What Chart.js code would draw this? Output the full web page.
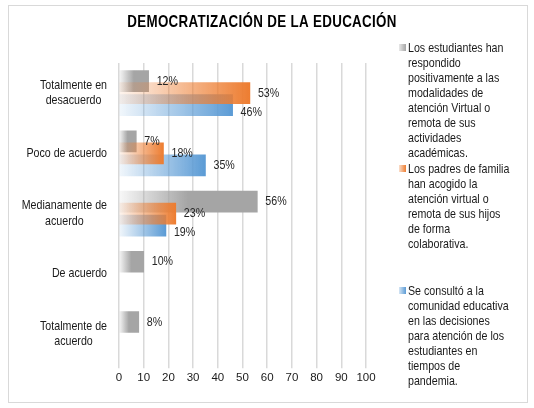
<!DOCTYPE html>
<html>
<head>
<meta charset="utf-8">
<script src="https://cdn.jsdelivr.net/npm/chart.js@4.4.0/dist/chart.umd.min.js"></script>
<style>
    html, body { margin: 0; padding: 0; background: #fff; }
    #wrap { position: relative; width: 534px; height: 408px; }
    #frame { position: absolute; left: 8px; top: 5px; width: 520px; height: 398px; border: 1px solid #d9d9d9; box-sizing: border-box; pointer-events: none; }
    .item { position: absolute; left: 399px; font: 13px "Liberation Sans", Arial, sans-serif; line-height: 15px; color: #1a1a1a; white-space: pre; }
    .item i { position: absolute; left: 0; top: 4px; width: 7px; height: 7px; }
    .item span { display: block; margin-left: 9px; transform: scaleX(0.82); transform-origin: 0 0; }
</style>
</head>
<body>
<div id="wrap">
    <canvas id="chart" width="534" height="408"></canvas>
    <div id="frame"></div>
    <div id="legend"></div>
</div>
<script>
const FONT = '"Liberation Sans", Arial, sans-serif';
const NARROW = 0.82;

const title = "DEMOCRATIZACIÓN DE LA EDUCACIÓN";
const categories = [
    ["Totalmente en", "desacuerdo"],
    ["Poco de acuerdo"],
    ["Medianamente de", "acuerdo"],
    ["De acuerdo"],
    ["Totalmente de", "acuerdo"],
];
const seriesNames = [
    "Los estudiantes han\nrespondido\npositivamente a las\nmodalidades de\natención Virtual o\nremota de sus\nactividades\nacadémicas.",
    "Los padres de familia\nhan acogido la\natención virtual o\nremota de sus hijos\nde forma\ncolaborativa.",
    "Se consultó a la\ncomunidad educativa\nen las decisiones\npara atención de los\nestudiantes en\ntiempos de\npandemia.",
];
const estudiantes = [12, 7, 56, 10, 8];
const padres = [53, 18, 23, null, null];
const consulta = [46, 35, 19, null, null];
const xTicks = [0, 10, 20, 30, 40, 50, 60, 70, 80, 90, 100];

const colors = ["165,165,165", "237,125,49", "91,155,213"];
const solidAt = [0.5, 1, 1];      // where each bar's gradient reaches full colour
const drawOrder = [1, 0, 2];      // orange sits on top of its neighbours
const shift = [-0.2, 0, 0.2];
const legendTops = [40, 161, 283];

function barFill(k) {
    const rgb = colors[k];
    return (ctx) => {
        const chart = ctx.chart;
        if (ctx.type !== "data" || !chart.chartArea) return `rgb(${rgb})`;
        const xs = chart.scales.x;
        const x0 = xs.getPixelForValue(0);
        const x1 = xs.getPixelForValue(ctx.raw.x);
        const g = chart.ctx.createLinearGradient(x0, 0, x1, 0);
        g.addColorStop(0, `rgba(${rgb},0.08)`);
        g.addColorStop(solidAt[k], `rgba(${rgb},1)`);
        if (solidAt[k] < 1) g.addColorStop(1, `rgba(${rgb},1)`);
        return g;
    };
}

function points(values, k) {
    return values
        .map((v, i) => (v == null ? null : { x: v, y: i + shift[k] }))
        .filter((p) => p);
}

// condensed text, like Arial Narrow
function narrowText(c, text, x, y, spacing) {
    c.save();
    c.translate(x, y);
    c.scale(NARROW, 1);
    if (spacing) c.letterSpacing = spacing + "px";
    c.fillText(text, 0, 0);
    c.restore();
}

const titlePlugin = {
    id: "narrowTitle",
    afterDraw(chart) {
        const c = chart.ctx;
        c.save();
        c.font = `bold 16.3px ${FONT}`;
        c.fillStyle = "#000";
        c.textAlign = "center";
        c.textBaseline = "middle";
        narrowText(c, title, 262, 23, 0.4);
        c.restore();
    },
};

// percentage labels right of each bar
const valueLabels = {
    id: "valueLabels",
    afterDatasetsDraw(chart) {
        const c = chart.ctx;
        c.save();
        c.font = `13px ${FONT}`;
        c.fillStyle = "#262626";
        c.textAlign = "left";
        c.textBaseline = "middle";
        chart.data.datasets.forEach((ds, di) => {
            chart.getDatasetMeta(di).data.forEach((el, j) => {
                let dy = 0;
                if (di === 2) {
                    const other = chart.getDatasetMeta(1).data[j];
                    if (other && Math.abs(other.x - el.x) < 30) dy = 7;
                }
                narrowText(c, ds.data[j].x + "%", el.x + 8, el.y + dy);
            });
        });
        c.restore();
    },
};

// category names, block right-aligned, lines centred within the block
const categoryLabels = {
    id: "categoryLabels",
    afterDraw(chart) {
        const c = chart.ctx;
        const ys = chart.scales.y;
        const right = chart.chartArea.left - 12;
        const lh = 15.5;
        c.save();
        c.font = `13px ${FONT}`;
        c.fillStyle = "#1a1a1a";
        c.textAlign = "center";
        c.textBaseline = "middle";
        categories.forEach((lines, i) => {
            const w = NARROW * Math.max(...lines.map((l) => c.measureText(l).width));
            const cx = right - w / 2;
            const cy = ys.getPixelForValue(i);
            lines.forEach((l, k) => narrowText(c, l, cx, cy + (k - (lines.length - 1) / 2) * lh));
        });
        c.restore();
    },
};

const chart = new Chart(document.getElementById("chart"), {
    type: "bar",
    data: {
        datasets: [estudiantes, padres, consulta].map((vals, k) => ({
            label: seriesNames[k],
            data: points(vals, k),
            backgroundColor: barFill(k),
            barThickness: 21,
            grouped: false,
            order: drawOrder[k],
        })),
    },
    options: {
        indexAxis: "y",
        responsive: false,
        animation: false,
        layout: { padding: { left: 119, right: 168, top: 63, bottom: 20 } },
        scales: {
            x: {
                min: 0,
                max: 100,
                afterBuildTicks: (s) => { s.ticks = xTicks.map((v) => ({ value: v })); },
                grid: { color: "#d9d9d9", lineWidth: 1.5, tickLength: 4 },
                border: { display: false },
                ticks: {
                    color: "#1a1a1a",
                    font: { family: FONT, size: 11.5 },
                    padding: 3,
                    maxRotation: 0,
                    autoSkip: false,
                },
            },
            y: {
                type: "linear",
                min: -0.5,
                max: 4.5,
                reverse: true,
                offset: false,
                display: false,
            },
        },
        plugins: {
            legend: { display: false },
            tooltip: { enabled: false },
        },
    },
    plugins: [titlePlugin, valueLabels, categoryLabels],
});

// legend built from the chart's datasets
const legend = document.getElementById("legend");
chart.data.datasets.forEach((ds, k) => {
    const item = document.createElement("div");
    item.className = "item";
    item.style.top = legendTops[k] + "px";
    const box = document.createElement("i");
    box.style.background = `linear-gradient(to right, rgba(${colors[k]},0.25), rgb(${colors[k]}))`;
    const text = document.createElement("span");
    text.textContent = ds.label;
    item.appendChild(box);
    item.appendChild(text);
    legend.appendChild(item);
});
</script>
</body>
</html>
